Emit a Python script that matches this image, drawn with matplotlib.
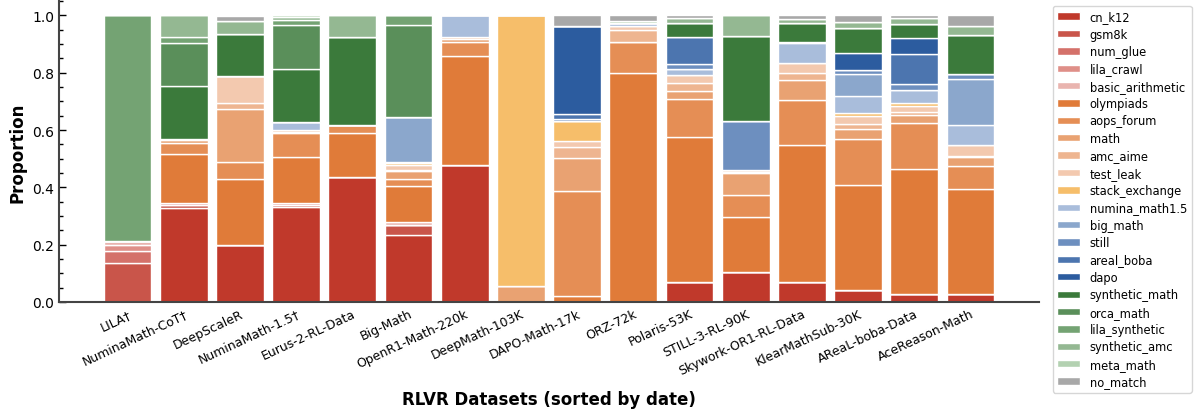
import numpy as np
import matplotlib
matplotlib.use("Agg")
import matplotlib.pyplot as plt
from matplotlib.ticker import MultipleLocator

datasets = [
    "LILA†", "NuminaMath-CoT†", "DeepScaleR", "NuminaMath-1.5†", "Eurus-2-RL-Data",
    "Big-Math", "OpenR1-Math-220k", "DeepMath-103K", "DAPO-Math-17k", "ORZ-72k",
    "Polaris-53K", "STILL-3-RL-90K", "Skywork-OR1-RL-Data", "KlearMathSub-30K",
    "AReaL-boba-Data", "AceReason-Math",
]

# proportions per source, one value per dataset (same order as above)
cn_k12 = [0, 0.328, 0.199, 0.330, 0.435, 0.235, 0.477, 0, 0, 0, 0.071, 0.104, 0.071, 0.043, 0.029, 0.027]
gsm8k = [0.135, 0.009, 0, 0.007, 0, 0.032, 0, 0, 0, 0, 0, 0, 0, 0, 0, 0]
num_glue = [0.042, 0, 0, 0, 0, 0, 0, 0, 0, 0, 0, 0, 0, 0, 0, 0]
lila_crawl = [0.022, 0.009, 0, 0.007, 0, 0, 0, 0, 0, 0, 0, 0, 0, 0, 0, 0]
basic_arithmetic = [0.015, 0, 0, 0, 0, 0.011, 0, 0, 0, 0, 0, 0, 0, 0, 0, 0]
olympiads = [0, 0.170, 0.231, 0.161, 0.153, 0.125, 0.382, 0, 0.022, 0.800, 0.503, 0.191, 0.476, 0.364, 0.434, 0.366]
aops_forum = [0, 0.037, 0.060, 0.083, 0.029, 0.025, 0.049, 0, 0.364, 0.106, 0.133, 0.079, 0.158, 0.160, 0.160, 0.080]
math_ = [0, 0.011, 0.182, 0.006, 0, 0.028, 0.010, 0.055, 0.116, 0, 0.028, 0.075, 0.068, 0.038, 0.028, 0.033]
amc_aime = [0, 0.006, 0.024, 0.006, 0, 0.005, 0.006, 0, 0.040, 0.044, 0.028, 0.006, 0.025, 0.016, 0.012, 0.004]
test_leak = [0, 0, 0.093, 0, 0, 0.016, 0, 0, 0.018, 0.012, 0.028, 0.005, 0.035, 0.028, 0.021, 0.037]
stack_exchange = [0, 0, 0, 0, 0, 0.008, 0, 0.945, 0.073, 0, 0, 0, 0, 0.012, 0.012, 0]
numina_math15 = [0, 0, 0, 0.028, 0, 0.004, 0.076, 0, 0, 0.011, 0.021, 0, 0.070, 0.058, 0.042, 0.069]
big_math = [0, 0, 0, 0, 0, 0.155, 0, 0, 0, 0, 0, 0, 0.005, 0.075, 0, 0.161]
still = [0, 0, 0, 0, 0, 0, 0, 0, 0.005, 0, 0.019, 0.170, 0, 0.016, 0.021, 0.019]
areal_boba = [0, 0, 0, 0, 0, 0, 0, 0, 0.018, 0, 0.094, 0, 0, 0, 0.105, 0]
dapo = [0, 0, 0, 0, 0, 0, 0, 0, 0.308, 0, 0, 0, 0, 0.058, 0.056, 0]
synthetic_math = [0, 0.184, 0.146, 0.184, 0.307, 0, 0, 0, 0, 0, 0.049, 0.297, 0.065, 0.087, 0.049, 0.135]
orca_math = [0, 0.150, 0, 0.154, 0, 0.324, 0, 0, 0, 0, 0, 0, 0, 0, 0, 0]
lila_synthetic = [0.786, 0.020, 0, 0.019, 0, 0.032, 0, 0, 0, 0, 0, 0, 0, 0, 0, 0]
synthetic_amc = [0, 0.076, 0.044, 0.010, 0.076, 0, 0, 0, 0, 0, 0.016, 0.073, 0.015, 0.023, 0.021, 0.031]
meta_math = [0, 0, 0, 0.005, 0, 0, 0, 0, 0, 0.008, 0, 0, 0, 0, 0, 0]
no_match = [0, 0, 0.020, 0, 0, 0, 0, 0, 0.036, 0.019, 0.010, 0, 0.012, 0.022, 0.010, 0.038]

sources = [
    ("cn_k12", cn_k12, "#c0392b"),
    ("gsm8k", gsm8k, "#c9554a"),
    ("num_glue", num_glue, "#d4716a"),
    ("lila_crawl", lila_crawl, "#df8f88"),
    ("basic_arithmetic", basic_arithmetic, "#e9b4af"),
    ("olympiads", olympiads, "#e07b39"),
    ("aops_forum", aops_forum, "#e58e55"),
    ("math", math_, "#e9a272"),
    ("amc_aime", amc_aime, "#eeb590"),
    ("test_leak", test_leak, "#f3c9af"),
    ("stack_exchange", stack_exchange, "#f6be6a"),
    ("numina_math1.5", numina_math15, "#a9bddb"),
    ("big_math", big_math, "#8ba7cc"),
    ("still", still, "#6d8fbf"),
    ("areal_boba", areal_boba, "#4c75af"),
    ("dapo", dapo, "#2c5c9f"),
    ("synthetic_math", synthetic_math, "#3b7a3b"),
    ("orca_math", orca_math, "#5a8f5a"),
    ("lila_synthetic", lila_synthetic, "#74a373"),
    ("synthetic_amc", synthetic_amc, "#94b892"),
    ("meta_math", meta_math, "#b3d1b1"),
    ("no_match", no_match, "#a8a8a8"),
]

fig = plt.figure(figsize=(11.98, 4.10), dpi=100)
ax = fig.add_axes([0.0492, 0.261, 0.8181, 0.734])

x = np.arange(len(datasets))
bottom = np.zeros(len(datasets))
for name, vals, color in sources:
    vals = np.array(vals, dtype=float)
    ax.bar(x, vals, 0.85, bottom=bottom, color=color, edgecolor="white",
           linewidth=1, label=name)
    bottom += vals

ax.set_xlim(-1.22, len(datasets) - 1 + 1.22)
ax.set_ylim(0, 1.05)
ax.yaxis.set_major_locator(MultipleLocator(0.2))
ax.yaxis.set_minor_locator(MultipleLocator(0.05))
ax.tick_params(axis="y", which="major", direction="in", length=5, labelsize=10, width=1)
ax.tick_params(axis="y", which="minor", direction="in", length=3, width=1)
ax.tick_params(axis="x", direction="in", length=0, labelsize=9)
ax.set_xticks(x)
ax.set_xticklabels(datasets, rotation=25, ha="right", rotation_mode="anchor")

for side in ["top", "right"]:
    ax.spines[side].set_visible(False)
for side in ["left", "bottom"]:
    ax.spines[side].set_color("#444444")
    ax.spines[side].set_linewidth(1.5)

ax.set_ylabel("Proportion", fontsize=12, fontweight="bold")
ax.set_xlabel("RLVR Datasets (sorted by date)", fontsize=12, fontweight="bold", labelpad=9)

ax.legend(loc="upper left", bbox_to_anchor=(1.014, 0.985), borderaxespad=0,
          fontsize=8.3, labelspacing=0.38, handlelength=2.0, handleheight=0.6,
          frameon=True)

fig.savefig("out.png", dpi=100)
